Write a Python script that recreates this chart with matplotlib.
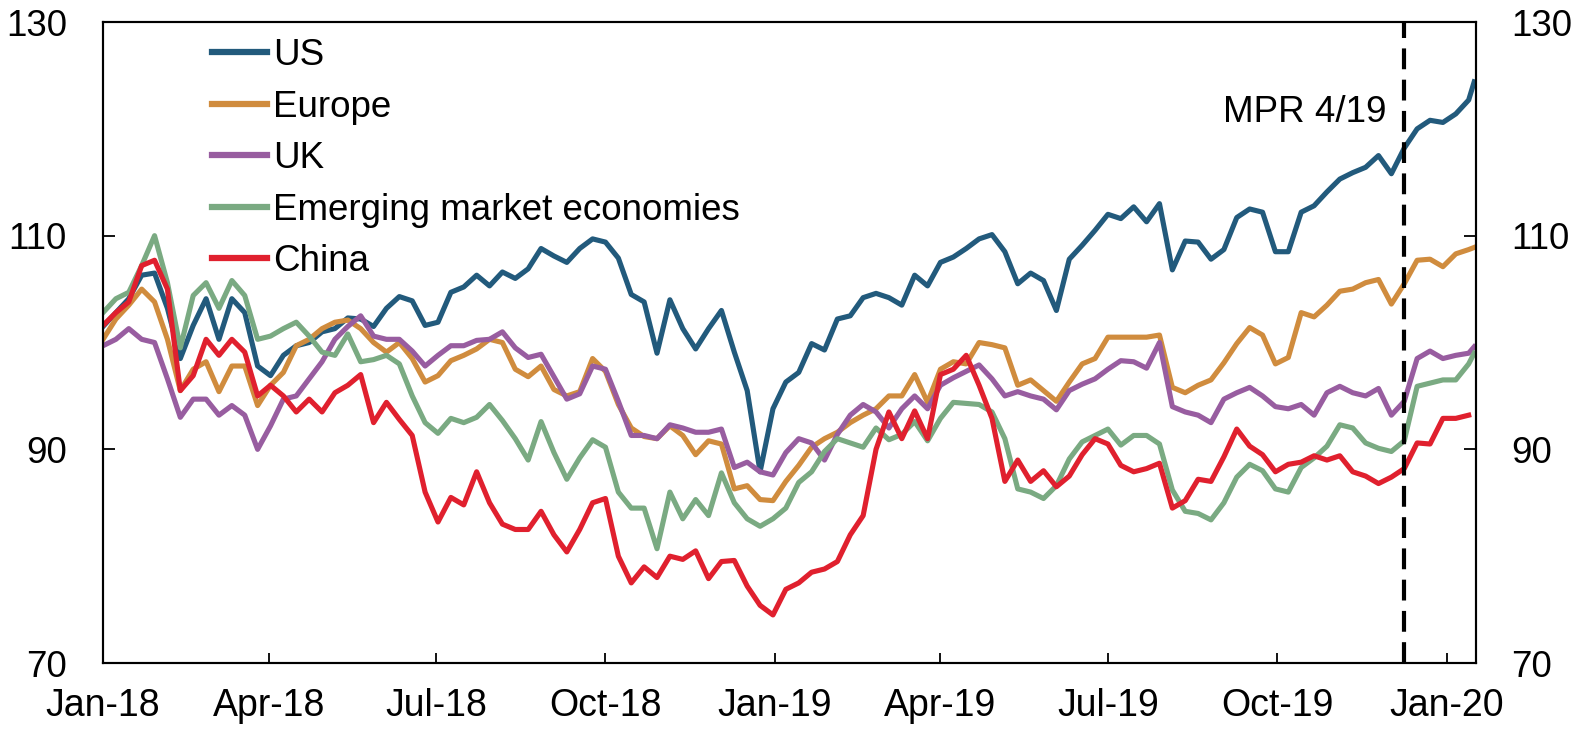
import numpy as np
import pandas as pd
import matplotlib
matplotlib.use("Agg")
import matplotlib.pyplot as plt
import matplotlib.dates as mdates
from matplotlib.lines import Line2D

plt.rcParams['font.family'] = ['Liberation Sans', 'DejaVu Sans']

# weekly readings (Mondays from 1 Jan 2018) plus the last observation
dates = pd.date_range('2018-01-01', periods=107, freq='7D').append(pd.DatetimeIndex(['2020-01-16']))

us = [101.5, 102.8, 104.1, 106.3, 106.5, 103.2, 98.5, 101.6, 104.1, 100.3,
      104.1, 102.8, 97.8, 96.9, 98.8, 99.7, 100.0, 101.0, 101.3, 102.3,
      102.2, 101.5, 103.2, 104.3, 103.9, 101.6, 101.9, 104.7, 105.2, 106.3,
      105.3, 106.6, 106.0, 106.9, 108.8, 108.1, 107.5, 108.8, 109.7, 109.4,
      107.9, 104.5, 103.8, 99.0, 104.0, 101.3, 99.4, 101.3, 103.0, 99.1,
      95.5, 87.9, 93.8, 96.3, 97.2, 99.9, 99.3, 102.2, 102.5, 104.2,
      104.6, 104.2, 103.5, 106.3, 105.3, 107.5, 108.0, 108.8, 109.7, 110.1,
      108.5, 105.5, 106.5, 105.8, 103.0, 107.8, 109.1, 110.5, 112.0, 111.6,
      112.7, 111.3, 113.0, 106.8, 109.5, 109.4, 107.8, 108.7, 111.7, 112.5,
      112.2, 108.5, 108.5, 112.2, 112.8, 114.1, 115.3, 115.9, 116.4, 117.5,
      115.8, 118.2, 120.0, 120.8, 120.6, 121.4, 122.7, 124.4]

europe = [100.3, 102.2, 103.5, 105.0, 103.8, 100.3, 95.5, 97.5, 98.2, 95.4,
          97.8, 97.8, 94.1, 96.0, 97.2, 99.7, 100.3, 101.3, 101.9, 102.1,
          101.3, 100.0, 99.1, 100.0, 98.5, 96.3, 96.9, 98.3, 98.8, 99.4,
          100.3, 100.0, 97.5, 96.8, 97.8, 95.6, 95.0, 95.4, 98.5, 97.3,
          94.2, 92.0, 91.2, 91.0, 92.2, 91.3, 89.5, 90.8, 90.5, 86.3,
          86.6, 85.3, 85.2, 87.0, 88.5, 90.2, 91.0, 91.6, 92.5, 93.2,
          93.8, 95.0, 95.0, 97.0, 94.4, 97.5, 98.2, 98.0, 100.0, 99.8,
          99.5, 96.0, 96.5, 95.5, 94.5, 96.3, 98.0, 98.5, 100.5, 100.5,
          100.5, 100.5, 100.7, 95.8, 95.3, 96.0, 96.5, 98.1, 99.9, 101.4,
          100.7, 98.0, 98.6, 102.8, 102.4, 103.5, 104.8, 105.0, 105.6, 105.9,
          103.6, 105.5, 107.7, 107.8, 107.1, 108.3, 108.7, 108.9]

uk = [99.7, 100.3, 101.3, 100.3, 100.0, 96.6, 93.0, 94.7, 94.7, 93.2,
      94.1, 93.2, 90.0, 92.2, 94.7, 95.0, 96.6, 98.2, 100.3, 101.5,
      102.5, 100.6, 100.3, 100.3, 99.2, 97.8, 98.8, 99.7, 99.7, 100.2,
      100.3, 101.0, 99.5, 98.6, 98.9, 96.8, 94.7, 95.2, 97.8, 97.5,
      94.5, 91.3, 91.3, 91.0, 92.3, 92.0, 91.6, 91.6, 91.9, 88.3,
      88.8, 87.9, 87.6, 89.7, 91.0, 90.6, 89.0, 91.4, 93.2, 94.2,
      93.5, 92.0, 93.8, 95.0, 93.8, 96.0, 96.7, 97.3, 97.9, 96.6,
      95.0, 95.4, 95.0, 94.7, 93.7, 95.5, 96.1, 96.6, 97.5, 98.3,
      98.2, 97.6, 100.0, 94.0, 93.5, 93.2, 92.5, 94.7, 95.3, 95.8,
      95.0, 94.0, 93.8, 94.2, 93.2, 95.3, 95.9, 95.3, 95.0, 95.7,
      93.2, 94.5, 98.5, 99.2, 98.5, 98.8, 99.0, 99.6]

eme = [102.8, 104.1, 104.7, 107.2, 110.0, 105.6, 99.5, 104.4, 105.6, 103.2,
       105.8, 104.4, 100.3, 100.6, 101.3, 101.9, 100.6, 99.1, 98.8, 100.8,
       98.2, 98.4, 98.8, 98.0, 95.0, 92.5, 91.5, 92.9, 92.5, 93.0,
       94.2, 92.7, 91.0, 89.0, 92.6, 89.7, 87.2, 89.2, 90.9, 90.2,
       86.0, 84.5, 84.5, 80.7, 86.0, 83.5, 85.3, 83.8, 87.8, 85.0,
       83.5, 82.8, 83.5, 84.5, 86.9, 87.9, 89.8, 91.0, 90.6, 90.2,
       92.0, 90.9, 91.4, 92.6, 90.8, 92.9, 94.4, 94.3, 94.2, 93.5,
       91.0, 86.3, 86.0, 85.4, 86.6, 89.1, 90.7, 91.3, 91.9, 90.4,
       91.3, 91.3, 90.5, 86.2, 84.2, 84.0, 83.4, 85.0, 87.4, 88.6,
       88.0, 86.3, 86.0, 88.3, 89.2, 90.3, 92.3, 92.0, 90.6, 90.1,
       89.8, 90.8, 95.9, 96.2, 96.5, 96.5, 98.0, 99.0]

china = [101.6, 102.8, 103.8, 107.2, 107.7, 105.0, 95.5, 96.9, 100.3, 98.8,
         100.3, 99.1, 95.0, 96.0, 95.0, 93.5, 94.7, 93.5, 95.3, 96.0,
         97.0, 92.5, 94.4, 92.8, 91.3, 86.0, 83.2, 85.5, 84.8, 87.9,
         85.0, 83.0, 82.5, 82.5, 84.2, 82.0, 80.4, 82.5, 85.0, 85.4,
         80.0, 77.5, 79.0, 78.0, 80.0, 79.7, 80.5, 77.9, 79.5, 79.6,
         77.2, 75.4, 74.5, 76.9, 77.5, 78.5, 78.8, 79.5, 82.0, 83.8,
         90.0, 93.5, 91.0, 93.6, 91.0, 97.0, 97.5, 98.8, 96.0, 92.9,
         87.0, 89.0, 87.0, 88.0, 86.5, 87.5, 89.5, 91.0, 90.5, 88.5,
         87.9, 88.2, 88.7, 84.5, 85.2, 87.2, 87.0, 89.3, 91.9, 90.3,
         89.5, 87.9, 88.6, 88.8, 89.4, 89.0, 89.4, 87.9, 87.5, 86.8,
         87.4, 88.2, 90.6, 90.5, 92.9, 92.9, 93.2, np.nan]

labels = ['US', 'Europe', 'UK', 'Emerging market economies', 'China']
colors = ['#225a7c', '#d08c3e', '#985da0', '#7aaa82', '#e0202e']
mpr_date = pd.Timestamp('2019-12-09')

fig = plt.figure(figsize=(15.8, 7.29), dpi=100)
ax = fig.add_axes([0.0652, 0.0905, 0.869, 0.8793])

series = [us, europe, uk, eme, china]
for vals, col in zip(series, colors):
    ax.plot(dates, vals, color=col, lw=3.7, solid_joinstyle='round')

ax.axvline(mpr_date, color='black', lw=3, linestyle=(0, (5, 2.5)))
ax.annotate('MPR 4/19', xy=(mpr_date, 121.5), xytext=(-18, 0),
            textcoords='offset pixels', ha='right', va='center', fontsize=26.5)

ax.set_xlim(pd.Timestamp('2018-01-01'), pd.Timestamp('2020-01-17'))
ax.set_ylim(70, 130)
ax.set_yticks([70, 90, 110, 130])
ax.xaxis.set_major_locator(mdates.MonthLocator(bymonth=[1, 4, 7, 10]))
ax.xaxis.set_major_formatter(mdates.DateFormatter('%b-%y'))

ax.tick_params(axis='x', direction='in', length=7, width=1.3, labelsize=27, pad=18)
ax.tick_params(axis='y', direction='in', length=8.5, width=1.3, labelsize=26.5, pad=26)
for s in ax.spines.values():
    s.set_linewidth(1.5)

ax2 = ax.twinx()
ax2.set_ylim(70, 130)
ax2.set_yticks([70, 90, 110, 130])
ax2.tick_params(axis='y', direction='in', length=8.5, width=1.3, labelsize=26.5, pad=25)
for s in ax2.spines.values():
    s.set_linewidth(1.5)

handles = [Line2D([], [], color=c, lw=4.5) for c in colors]
ax.legend(handles, labels, loc='upper left', bbox_to_anchor=(0.0794, 0.975),
          frameon=False, fontsize=26.5, handlelength=1.5, handletextpad=0.15,
          labelspacing=0.45, borderpad=0, borderaxespad=0)

fig.savefig('out.png', dpi=100)
